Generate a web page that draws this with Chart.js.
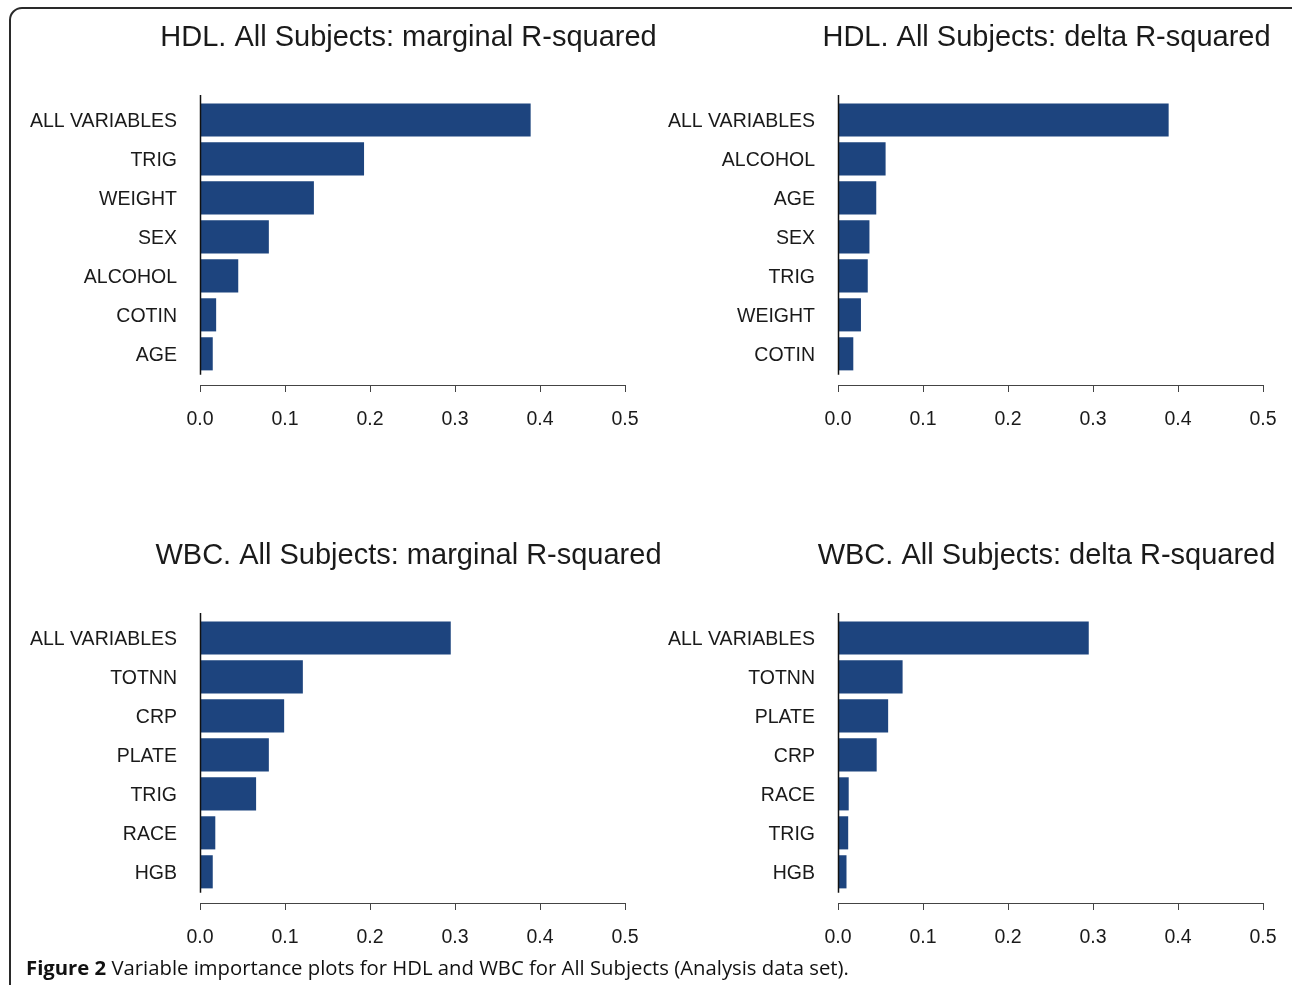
<!DOCTYPE html>
<html>
<head>
<meta charset="utf-8">
<script src="https://cdn.jsdelivr.net/npm/chart.js@4.4.1/dist/chart.umd.min.js"></script>
<style>
  html, body { margin:0; padding:0; background:#fff; overflow:hidden; }
  body { width:1292px; height:985px; position:relative; }
  .frame { position:absolute; left:9px; top:7px; width:1300px; height:990px; border:2px solid #2a2a2a; border-radius:13px; box-sizing:border-box; }
  .panel { position:absolute; width:660px; height:450px; }
  #caption { position:absolute; left:26px; top:953px; font-family:"Open Sans", sans-serif; font-size:20.3px; color:#111; white-space:nowrap; }
  #caption b { font-weight:700; }
</style>
</head>
<body>
<div class="frame"></div>
<div class="panel" style="left:0;top:0"><canvas id="c1" width="660" height="450"></canvas></div>
<div class="panel" style="left:638px;top:0"><canvas id="c2" width="660" height="450"></canvas></div>
<div class="panel" style="left:0;top:518px"><canvas id="c3" width="660" height="450"></canvas></div>
<div class="panel" style="left:638px;top:518px"><canvas id="c4" width="660" height="450"></canvas></div>
<div id="caption"><b>Figure 2</b> Variable importance plots for HDL and WBC for All Subjects (Analysis data set).</div>
<script>
// data (R-squared values)
const hdlMargLabels = ['ALL VARIABLES','TRIG','WEIGHT','SEX','ALCOHOL','COTIN','AGE'];
const hdlMargValues = [0.389, 0.193, 0.134, 0.081, 0.045, 0.019, 0.015];

const hdlDeltaLabels = ['ALL VARIABLES','ALCOHOL','AGE','SEX','TRIG','WEIGHT','COTIN'];
const hdlDeltaValues = [0.389, 0.056, 0.045, 0.037, 0.035, 0.027, 0.018];

const wbcMargLabels = ['ALL VARIABLES','TOTNN','CRP','PLATE','TRIG','RACE','HGB'];
const wbcMargValues = [0.295, 0.121, 0.099, 0.081, 0.066, 0.018, 0.015];

const wbcDeltaLabels = ['ALL VARIABLES','TOTNN','PLATE','CRP','RACE','TRIG','HGB'];
const wbcDeltaValues = [0.295, 0.076, 0.059, 0.0455, 0.0126, 0.012, 0.010];

const xTicks = [0, 0.1, 0.2, 0.3, 0.4, 0.5];

const BAR = '#1d447e';
const FONT = '"Liberation Sans", Arial, Helvetica, sans-serif';

// vertical axis line drawn only over the bar region (like R's barplot)
const yLinePlugin = {
  id: 'yLine',
  afterDatasetsDraw(chart) {
    const xs = chart.scales.x, ys = chart.scales.y;
    const x = Math.round(xs.getPixelForValue(0)) + 0.5;
    const ctx = chart.ctx;
    ctx.save();
    ctx.strokeStyle = '#111';
    ctx.lineWidth = 1.5;
    ctx.beginPath();
    ctx.moveTo(x, ys.getPixelForValue(-0.64));
    ctx.lineTo(x, ys.getPixelForValue(6.54));
    ctx.stroke();
    ctx.restore();
  }
};

// panel title, centred a little left of the plot region as in the figure
const titlePlugin = {
  id: 'panelTitle',
  afterDraw(chart, args, opts) {
    const a = chart.chartArea;
    const ctx = chart.ctx;
    ctx.save();
    ctx.font = '29px ' + FONT;
    ctx.fillStyle = '#1a1a1a';
    ctx.textAlign = 'center';
    ctx.textBaseline = 'middle';
    ctx.fillText(opts.text, (a.left + a.right) / 2 - 4, 38);
    ctx.restore();
  }
};

function makeChart(id, title, labels, values) {
  const ctx = document.getElementById(id).getContext('2d');
  return new Chart(ctx, {
    type: 'bar',
    data: {
      datasets: [{
        data: values.map((v, i) => ({ x: v, y: i })),
        backgroundColor: BAR,
        borderWidth: 0,
        barPercentage: 0.85,
        categoryPercentage: 1.0
      }]
    },
    options: {
      indexAxis: 'y',
      responsive: false,
      animation: false,
      layout: { padding: { left: 0, right: 35, top: 95, bottom: 0 } },
      plugins: {
        legend: { display: false },
        tooltip: { enabled: false },
        title: { display: false },
        panelTitle: { text: title }
      },
      scales: {
        x: {
          type: 'linear', min: 0, max: 0.5,
          afterBuildTicks: s => { s.ticks = xTicks.map(v => ({ value: v })); },
          afterFit: s => { s.height = 65; s.paddingLeft = 0; s.paddingRight = 0; },
          grid: { drawOnChartArea: false, drawTicks: true, tickLength: 7, color: '#444', lineWidth: 1 },
          border: { display: true, color: '#444', width: 1 },
          ticks: { color: '#1a1a1a', padding: 16, font: { family: FONT, size: 19.5 },
                   callback: v => v.toFixed(1) }
        },
        y: {
          type: 'linear', reverse: true, offset: false, min: -0.64, max: 6.8,
          afterBuildTicks: s => { s.ticks = labels.map((_, i) => ({ value: i })); },
          afterFit: s => { s.width = 200; s.paddingTop = 0; s.paddingBottom = 0; },
          grid: { display: false, drawTicks: false, offset: false },
          border: { display: false },
          ticks: { color: '#1a1a1a', padding: 23, labelOffset: 2, font: { family: FONT, size: 19.5 },
                   callback: v => labels[v] }
        }
      }
    },
    plugins: [yLinePlugin, titlePlugin]
  });
}

makeChart('c1', 'HDL. All Subjects: marginal R-squared', hdlMargLabels, hdlMargValues);
makeChart('c2', 'HDL. All Subjects: delta R-squared', hdlDeltaLabels, hdlDeltaValues);
makeChart('c3', 'WBC. All Subjects: marginal R-squared', wbcMargLabels, wbcMargValues);
makeChart('c4', 'WBC. All Subjects: delta R-squared', wbcDeltaLabels, wbcDeltaValues);
</script>
</body>
</html>
